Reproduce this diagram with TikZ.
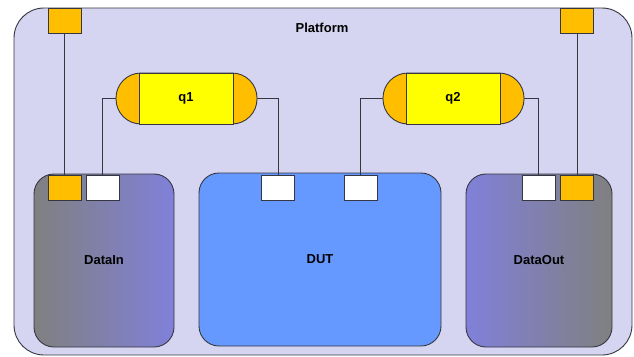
\documentclass[tikz,border=0pt]{standalone}
\usepackage{fontspec}
\setmainfont{Liberation Sans}
\definecolor{platfill}{RGB}{213,213,242}
\definecolor{edge}{RGB}{54,54,64}
\definecolor{portor}{RGB}{255,191,0}
\definecolor{qyel}{RGB}{255,255,0}
\definecolor{dutblue}{RGB}{102,153,255}
\definecolor{gray1}{RGB}{128,128,128}
\definecolor{purp1}{RGB}{128,128,218}
\tikzset{
  lbl/.style={font=\fontsize{13}{15}\selectfont\bfseries},
  box/.style={draw=edge, line width=0.9pt, inner sep=0pt, rounded corners=20pt, minimum height=173pt},
  port/.style={draw=edge, line width=0.9pt, inner sep=0pt, minimum width=33pt, minimum height=25pt},
  oport/.style={port, fill=portor},
  wport/.style={port, fill=white},
  qcap/.style={draw=edge, line width=0.9pt, fill=portor, inner sep=0pt, minimum width=141pt, minimum height=51pt, rounded corners=25pt},
  qbody/.style={draw=edge, line width=0.9pt, fill=qyel, inner sep=0pt, minimum width=94pt, minimum height=51pt},
  wire/.style={draw=edge, line width=0.8pt}
}
\begin{document}
\begin{tikzpicture}[x=1pt,y=-1pt]
\useasboundingbox (0,0) rectangle (634,356);
\node[draw=edge, line width=0.9pt, fill=platfill, rounded corners=30pt, inner sep=0pt, minimum width=618pt, minimum height=347pt] (platform) at (323,181.5) {};
\node[lbl] (platlbl) at (322,28) {Platform};
% top ports
\node[oport] (topL) at (64.5,20.5) {};
\node[oport] (topR) at (577,20.5) {};
% queues
\node[qcap] (q1) at (186.5,98.5) {};
\node[qbody, lbl] (q1b) at (186,98.5) {q1};
\node[qcap] (q2) at (453.5,98.5) {};
\node[qbody, lbl] (q2b) at (453,98.5) {q2};
% components
\node[box, minimum width=140pt, shading=axis, left color=gray1, right color=purp1, lbl] (datain) at (104,260.5) {DataIn};
\node[box, minimum width=242pt, fill=dutblue, lbl] (dut) at (320,259.5) {DUT};
\node[box, minimum width=146pt, shading=axis, left color=purp1, right color=gray1, lbl] (dataout) at (539,260.5) {DataOut};
% component ports
\node[oport] (inO) at (64.5,187.5) {};
\node[wport] (inW) at (102.5,187.5) {};
\node[wport] (dutA) at (278,187.5) {};
\node[wport] (dutB) at (360.5,187.5) {};
\node[wport] (outW) at (538.5,187.5) {};
\node[oport] (outO) at (577,187.5) {};
% wires
\draw[wire] (topL.south) -- (topL.south |- inO.north);
\draw[wire] (topR.south) -- (topR.south |- outO.north);
\draw[wire] (q1.west) -| (inW.north);
\draw[wire] (q1.east) -| (dutA.north);
\draw[wire] (q2.west) -| (dutB.north);
\draw[wire] (q2.east) -| (outW.north);
\end{tikzpicture}
\end{document}
